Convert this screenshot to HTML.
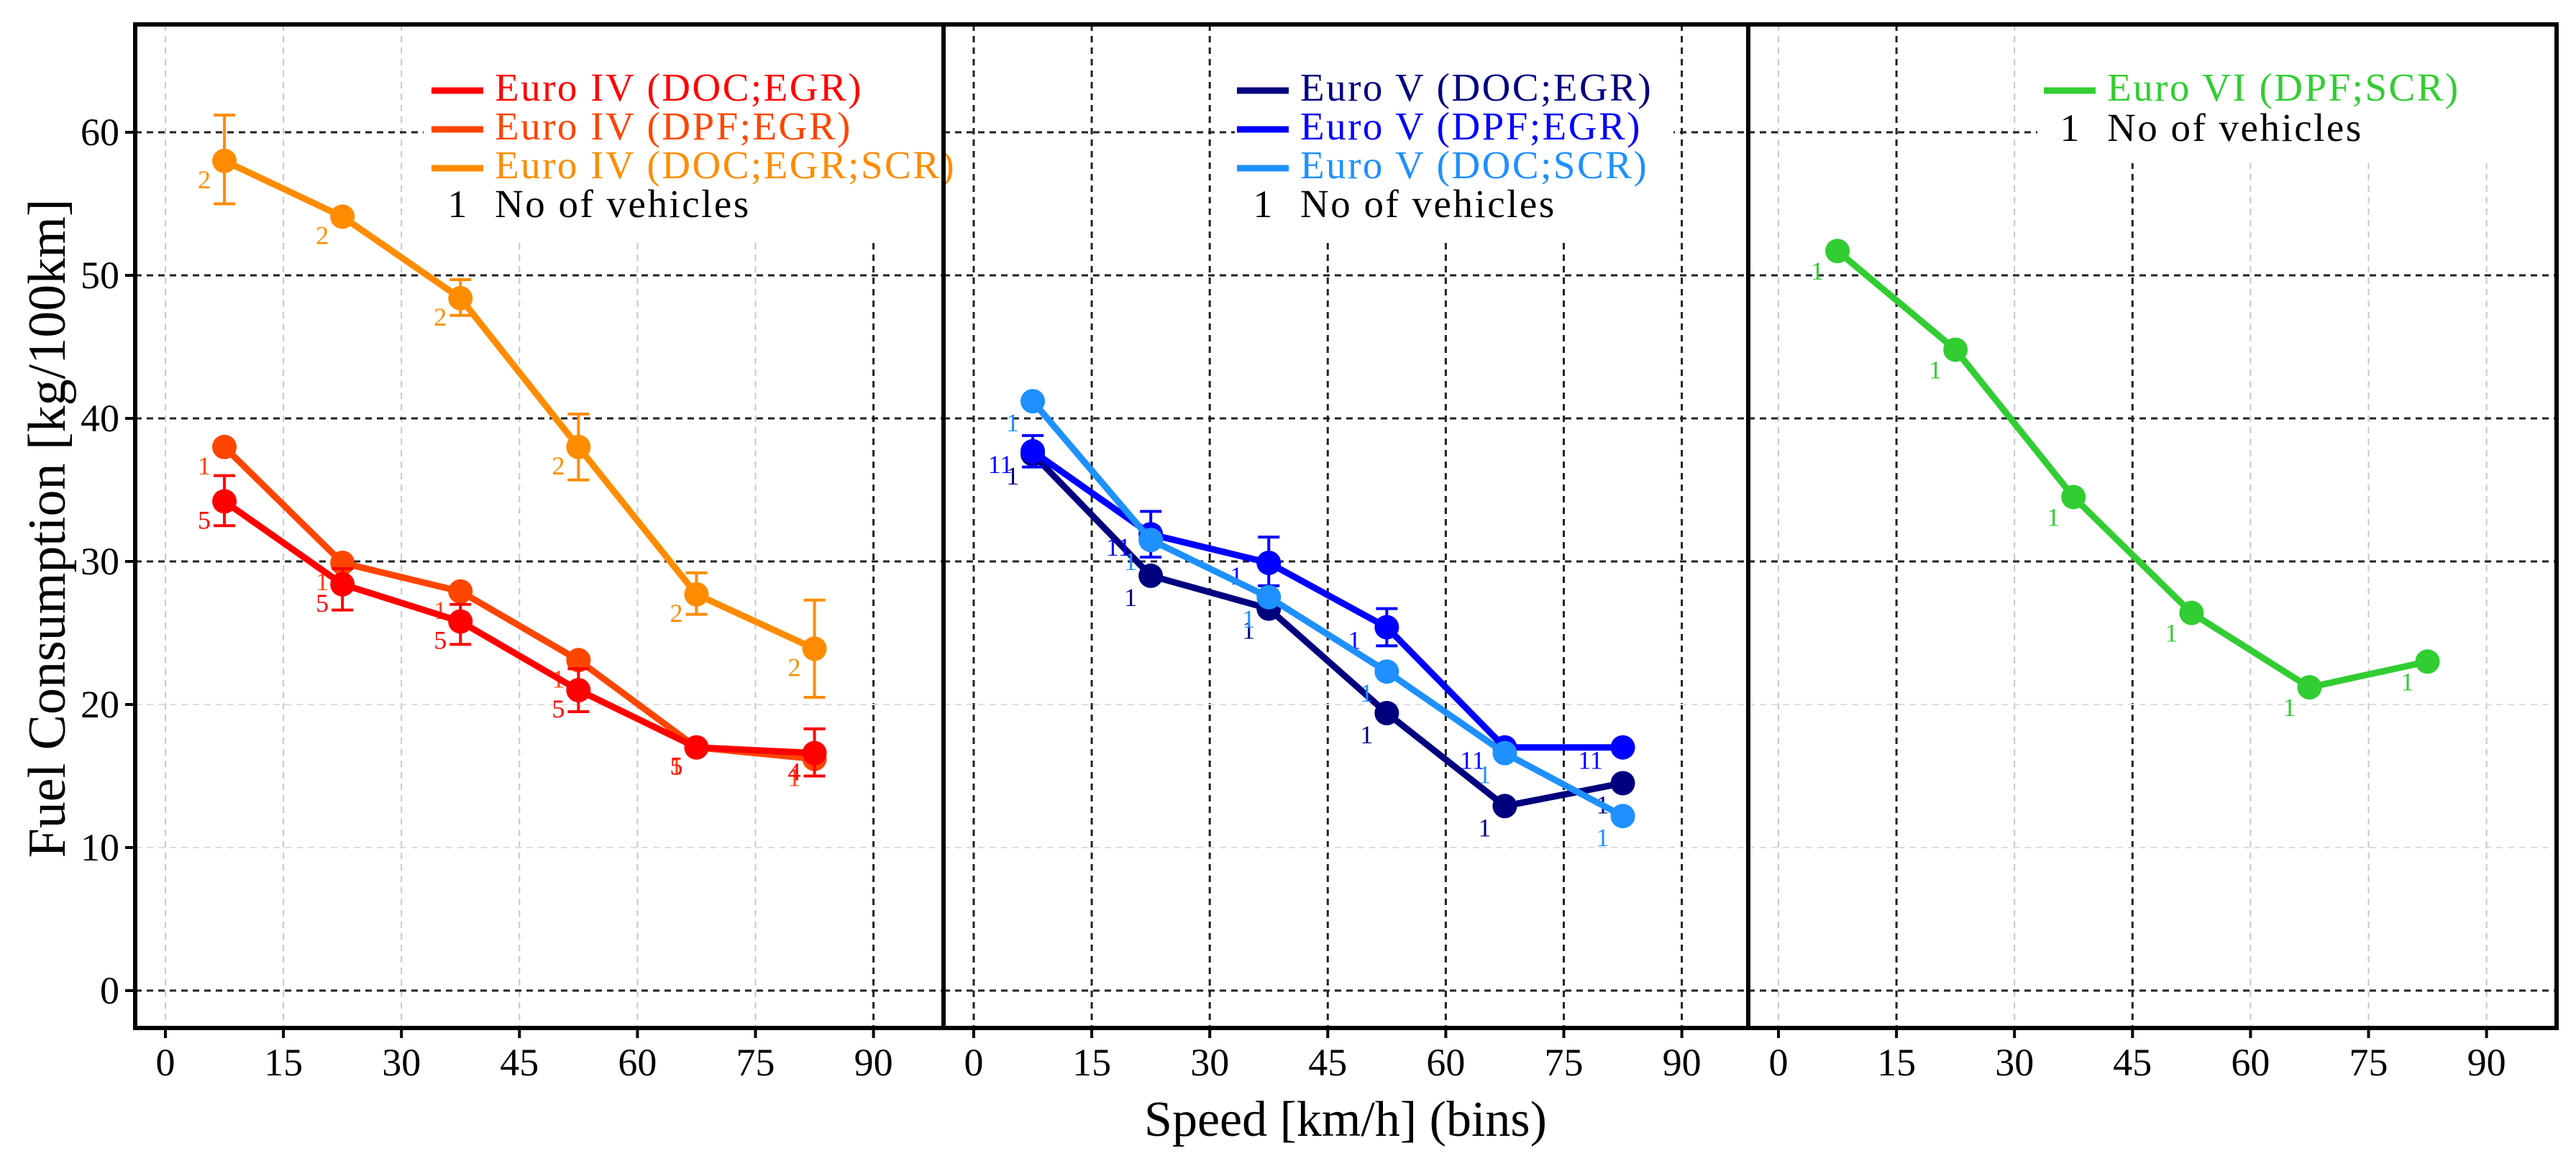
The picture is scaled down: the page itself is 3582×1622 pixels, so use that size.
<!DOCTYPE html>
<html><head><meta charset="utf-8"><style>
html,body{margin:0;padding:0;background:#fff;}
svg{display:block;}
text{font-family:"Liberation Serif",serif;}
</style></head>
<body>
<svg id="chart" width="3582" height="1622" viewBox="0 0 3582 1622" xmlns="http://www.w3.org/2000/svg">
<rect width="3582" height="1622" fill="#fff"/>
<g id="grid"></g>
<g id="legendbg"></g>
<g id="marks"></g>
<g id="axes"></g>
<text x="0" y="0" transform="translate(90,735) rotate(-90)" font-size="74" text-anchor="middle">Fuel Consumption [kg/100km]</text>
<text x="1871" y="1580" font-size="70" text-anchor="middle">Speed [km/h] (bins)</text>
</svg>
<script>
const speeds = [7.5, 22.5, 37.5, 52.5, 67.5, 82.5];
const xTicks = [0, 15, 30, 45, 60, 75, 90];
const yTicks = [0, 10, 20, 30, 40, 50, 60];
// panel 1
const e4DocEgr = [34.2, 28.4, 25.8, 21.0, 17.0, 16.6];
const e4DocEgrLo = [32.5, 26.6, 24.2, 19.5, null, 15.0];
const e4DocEgrHi = [36.0, 29.5, 27.0, 22.5, null, 18.3];
const e4DocEgrN = ["5", "5", "5", "5", "5", "4"];
const e4DpfEgr = [38.0, 29.9, 27.9, 23.1, 17.0, 16.2];
const e4DpfEgrN = ["1", "1", "1", "1", "1", "1"];
const e4Scr = [58.0, 54.1, 48.4, 38.0, 27.7, 23.9];
const e4ScrLo = [55.0, null, 47.2, 35.7, 26.3, 20.5];
const e4ScrHi = [61.2, null, 49.7, 40.3, 29.2, 27.3];
const e4ScrN = ["2", "2", "2", "2", "2", "2"];
// panel 2
const e5DocEgr = [37.5, 29.0, 26.7, 19.4, 12.9, 14.5];
const e5DocEgrN = ["1", "1", "1", "1", "1", "1"];
const e5DpfEgr = [37.7, 31.9, 29.9, 25.4, 17.0, 17.0];
const e5DpfEgrLo = [36.6, 30.3, 28.3, 24.1, null, null];
const e5DpfEgrHi = [38.8, 33.5, 31.7, 26.7, null, null];
const e5DpfEgrN = ["11", "11", "1", "1", "11", "11"];
const e5DocScr = [41.2, 31.5, 27.5, 22.3, 16.6, 12.2];
const e5DocScrN = ["1", "1", "1", "1", "1", "1"];
// panel 3
const e6DpfScr = [51.7, 44.8, 34.5, 26.4, 21.2, 23.0];
const e6DpfScrN = ["1", "1", "1", "1", "1", "1"];

const panelLeft = [188, 1312, 2431];
const panelRight = [1312, 2431, 3555];
const TOP = 34, BOTTOM = 1430;
function xs(p, v) { return panelLeft[p] + 42 + v * 10.94; }
function ys(v) { return 1378 - v * 19.9; }

const NS = "http://www.w3.org/2000/svg";
function mk(parent, tag, attrs) {
  const el = document.createElementNS(NS, tag);
  for (const k in attrs) el.setAttribute(k, attrs[k]);
  document.getElementById(parent).appendChild(el);
  return el;
}

const darkV = [[90], [0,15,30,45,60,75,90], [15,45]];
for (let p = 0; p < 3; p++) {
  for (const t of xTicks) {
    const dark = darkV[p].includes(t);
    const g = mk("grid", "line", {x1: xs(p,t), x2: xs(p,t), y1: TOP, y2: BOTTOM, stroke: dark ? "#222" : "#c8c8c8", "stroke-width": dark ? 3 : 2, "stroke-dasharray": "9,7"});
    
    
  }
  for (const t of yTicks) {
    const dark = !(t === 10 || t === 20);
    const g = mk("grid", "line", {x1: panelLeft[p], x2: panelRight[p], y1: ys(t), y2: ys(t), stroke: dark ? "#222" : "#dddddd", "stroke-width": dark ? 3 : 2, "stroke-dasharray": "9,7"});
    
    
  }
}
const lb1 = mk("legendbg", "rect", {x: 589, y: TOP+3, width: 720, height: 300, fill: "#fff"});


const lb2 = mk("legendbg", "rect", {x: 1717, y: TOP+3, width: 610, height: 300, fill: "#fff"});


const lb3 = mk("legendbg", "rect", {x: 2833, y: TOP+3, width: 719, height: 190, fill: "#fff"});



function series(p, vals, color, lo, hi, counts, name, ldx, ldy) {
  const pts = vals.map((v, i) => xs(p, speeds[i]) + "," + ys(v)).join(" ");
  const pl = mk("marks", "polyline", {points: pts, fill: "none", stroke: color, "stroke-width": 9, "stroke-linejoin": "round"});
  
  
  vals.forEach((v, i) => {
    const x = xs(p, speeds[i]);
    if (lo && lo[i] != null) {
      const e = mk("marks", "path", {d: `M${x},${ys(lo[i])}V${ys(hi[i])}M${x-15},${ys(lo[i])}H${x+15}M${x-15},${ys(hi[i])}H${x+15}`, stroke: color, "stroke-width": 4, fill: "none"});
      
      
    }
    const c = mk("marks", "circle", {cx: x, cy: ys(v), r: 17, fill: color});
    
    
    const t = mk("marks", "text", {x: x + ldx, y: ys(v) + ldy, "font-size": 36, fill: color, "text-anchor": "middle"});
    
    
    t.textContent = counts[i];
  });
}
series(0, e4Scr, "#ff8c00", e4ScrLo, e4ScrHi, e4ScrN, "euro-iv-doc-egr-scr", -28, 38);
series(0, e4DpfEgr, "#ff4500", null, null, e4DpfEgrN, "euro-iv-dpf-egr", -28, 38);
series(0, e4DocEgr, "#ff0000", e4DocEgrLo, e4DocEgrHi, e4DocEgrN, "euro-iv-doc-egr", -28, 38);
series(1, e5DocEgr, "#00007f", null, null, e5DocEgrN, "euro-v-doc-egr", -28, 42);
series(1, e5DpfEgr, "#0000ff", e5DpfEgrLo, e5DpfEgrHi, e5DpfEgrN, "euro-v-dpf-egr", -45, 30);
series(1, e5DocScr, "#1e90ff", null, null, e5DocScrN, "euro-v-doc-scr", -28, 42);
series(2, e6DpfScr, "#32cd32", null, null, e6DpfScrN, "euro-vi-dpf-scr", -28, 40);

function legendRow(lx, tx, y, color, label, nm) {
  if (color) {
    const l = mk("marks", "line", {x1: lx, x2: lx + 72, y1: y - 14, y2: y - 14, stroke: color, "stroke-width": 9});
    
    
  } else {
    const n = mk("marks", "text", {x: lx + 36, y: y, "font-size": 54, fill: "#000", "text-anchor": "middle"});
    
    
    n.textContent = "1";
  }
  const t = mk("marks", "text", {x: tx, y: y, "font-size": 55, "letter-spacing": 2.5, fill: color || "#000"});
  
  
  t.textContent = label;
}
legendRow(600, 688, 140, "#ff0000", "Euro IV (DOC;EGR)", "legend-euro-iv-doc-egr");
legendRow(600, 688, 194, "#ff4500", "Euro IV (DPF;EGR)", "legend-euro-iv-dpf-egr");
legendRow(600, 688, 248, "#ff8c00", "Euro IV (DOC;EGR;SCR)", "legend-euro-iv-doc-egr-scr");
legendRow(600, 688, 302, null, "No of vehicles", "legend-no-of-vehicles");
legendRow(1720, 1808, 140, "#00007f", "Euro V (DOC;EGR)", "legend-euro-v-doc-egr");
legendRow(1720, 1808, 194, "#0000ff", "Euro V (DPF;EGR)", "legend-euro-v-dpf-egr");
legendRow(1720, 1808, 248, "#1e90ff", "Euro V (DOC;SCR)", "legend-euro-v-doc-scr");
legendRow(1720, 1808, 302, null, "No of vehicles", "legend-no-of-vehicles");
legendRow(2842, 2930, 140, "#32cd32", "Euro VI (DPF;SCR)", "legend-euro-vi-dpf-scr");
legendRow(2842, 2930, 196, null, "No of vehicles", "legend-no-of-vehicles");

const fr = mk("axes", "rect", {x: 188, y: TOP, width: 3555 - 188, height: BOTTOM - TOP, fill: "none", stroke: "#000", "stroke-width": 6});


for (const sx of [1312, 2431]) {
  const s = mk("axes", "line", {x1: sx, x2: sx, y1: TOP, y2: BOTTOM, stroke: "#000", "stroke-width": 6});
  
  
}
for (let p = 0; p < 3; p++) {
  for (const t of xTicks) {
    const x = xs(p, t);
    const tk = mk("axes", "line", {x1: x, x2: x, y1: BOTTOM, y2: BOTTOM + 14, stroke: "#000", "stroke-width": 4});
    
    
    const tl = mk("axes", "text", {x: x, y: BOTTOM + 66, "font-size": 54, "text-anchor": "middle"});
    
    
    tl.textContent = t;
  }
}
for (const t of yTicks) {
  const tk = mk("axes", "line", {x1: 174, x2: 188, y1: ys(t), y2: ys(t), stroke: "#000", "stroke-width": 4});
  
  
  const tl = mk("axes", "text", {x: 166, y: ys(t) + 18, "font-size": 54, "text-anchor": "end"});
  
  
  tl.textContent = t;
}
</script>
</body></html>
